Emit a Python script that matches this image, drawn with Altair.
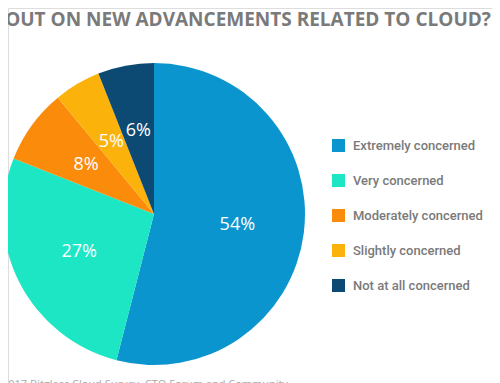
import altair as alt
import pandas as pd

categories = ["Extremely concerned", "Very concerned", "Moderately concerned",
              "Slightly concerned", "Not at all concerned"]
values = [54, 27, 8, 5, 6]
labels = ["54%", "27%", "8%", "5%", "6%"]
colors = ["#0b95cf", "#1de6c4", "#fb8b0b", "#fbb30b", "#0c4a73"]
title_lines = ["HOW CONCERNED ARE YOU THAT YOU ARE MISSING",
               "OUT ON NEW ADVANCEMENTS RELATED TO CLOUD?"]
footer = "2017 Bitglass Cloud Survey, CTO Forum and Community"

df = pd.DataFrame({"category": categories, "value": values, "label": labels,
                   "order": list(range(len(categories)))})

CX, CY, R = 146, 206, 151

color = alt.Color("category:N", sort=categories,
                  scale=alt.Scale(domain=categories, range=colors),
                  legend=alt.Legend(title=None, orient="none", legendX=324, legendY=131,
                                    symbolType="square", symbolSize=169,
                                    symbolStrokeWidth=0,
                                    labelFont="Roboto", labelFontSize=13,
                                    labelFontWeight=500,
                                    labelColor="#7a7a7a", labelOffset=8,
                                    rowPadding=21, labelLimit=200))

base = alt.Chart(df).encode(
    theta=alt.Theta("value:Q", stack=True),
    order=alt.Order("order:Q"),
)

pie = base.mark_arc(outerRadius=R, stroke=None).encode(
    color=color, x=alt.value(CX), y=alt.value(CY))

text = base.mark_text(radius=84, font="Open Sans", fontSize=18, color="white").encode(
    text="label:N", x=alt.value(CX), y=alt.value(CY))

tdf = pd.DataFrame({"t": title_lines, "i": [0, 1]})
title = alt.Chart(tdf).mark_text(font="Open Sans", fontSize=19, fontWeight="bold",
                                 color="#7a7a7a", align="center", baseline="alphabetic").encode(
    text="t:N",
    x=alt.value(240),
    y=alt.Y("i:Q", scale=alt.Scale(domain=[0, 1], range=[-3, 18], zero=False, nice=False),
            axis=None),
)

fdf = pd.DataFrame({"t": [footer]})
foot = alt.Chart(fdf).mark_text(font="Open Sans", fontSize=11, color="#aaaaaa",
                                align="left", baseline="alphabetic").encode(
    text="t:N", x=alt.value(-6), y=alt.value(380))

chart = alt.layer(pie, text, title, foot).properties(
    width=484, height=375, autosize=alt.AutoSizeParams(type="none"), padding=0
).configure_view(stroke=None).configure(background="white")

chart.save("out.html", embed_options={"renderer": "svg", "actions": False})
